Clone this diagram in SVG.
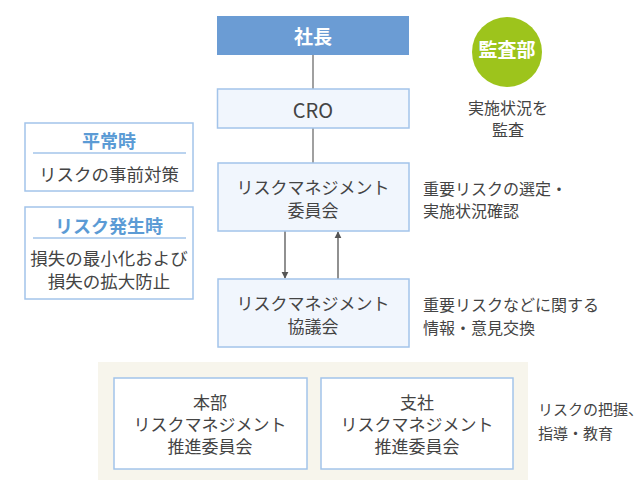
<svg xmlns="http://www.w3.org/2000/svg" width="643" height="480" viewBox="0 0 643 480">
<defs>
<style>
text{font-family:"Noto Sans CJK JP","Noto Sans",sans-serif;text-anchor:middle;dominant-baseline:central;fill:#444444}
.box{fill:#F1F6FD;stroke:#A3C4EA;stroke-width:1.5}
.wbox{fill:#ffffff;stroke:#A3C4EA;stroke-width:1.5}
.bt{font-size:17px}
.side{font-size:16px;text-anchor:start}
.ttl{font-size:18px;font-weight:bold;fill:#5B9BD5}
.lt{font-size:17.5px}
.wt{font-size:19px;font-weight:bold;fill:#ffffff}
.gline{stroke:#A0A0A0;stroke-width:2;fill:none}
.arr{stroke:#555555;stroke-width:1.3;fill:none;marker-end:url(#ah)}
</style>
<marker id="ah" viewBox="0 0 10 10" refX="9" refY="5" markerWidth="7" markerHeight="9" markerUnits="userSpaceOnUse" orient="auto"><path d="M0,0 L10,5 L0,10 z" fill="#555555"/></marker>
</defs>

<g id="connectors">
<line class="gline" x1="313" y1="55" x2="313" y2="89"/>
<line class="gline" x1="313" y1="128" x2="313" y2="163"/>
<line class="arr" x1="285" y1="231" x2="285" y2="278"/>
<line class="arr" x1="338" y1="279" x2="338" y2="232"/>
</g>

<g id="president">
<rect x="217" y="16" width="192" height="39" fill="#6B9CD4"/>
<text class="wt" x="313" y="35">社長</text>
</g>

<g id="cro">
<rect class="box" x="217.5" y="89" width="191.5" height="39"/>
<text x="313" y="109" style="font-size:20px">CRO</text>
</g>

<g id="committee">
<rect class="box" x="218" y="163" width="191" height="68"/>
<text class="bt" x="313" y="186">リスクマネジメント</text>
<text class="bt" x="313" y="209">委員会</text>
</g>

<g id="council">
<rect class="box" x="218" y="279" width="191" height="68"/>
<text class="bt" x="313" y="302">リスクマネジメント</text>
<text class="bt" x="313" y="325">協議会</text>
</g>

<g id="audit">
<circle cx="507" cy="52" r="35" fill="#9DC41C"/>
<text class="wt" x="507" y="48">監査部</text>
<text x="508" y="107" style="font-size:16px">実施状況を</text>
<text x="508" y="129" style="font-size:16px">監査</text>
</g>

<g id="committee-note">
<text class="side" x="423" y="188">重要リスクの選定・</text>
<text class="side" x="423" y="210">実施状況確認</text>
</g>

<g id="council-note">
<text class="side" x="423" y="304">重要リスクなどに関する</text>
<text class="side" x="423" y="327">情報・意見交換</text>
</g>

<g id="normal-time">
<rect class="wbox" x="25" y="123" width="168" height="68"/>
<text class="ttl" x="109" y="140">平常時</text>
<line x1="33" y1="153" x2="186" y2="153" stroke="#A3C4EA" stroke-width="1.5"/>
<text class="lt" x="109" y="173">リスクの事前対策</text>
</g>

<g id="risk-time">
<rect class="wbox" x="25" y="207" width="168" height="92"/>
<text class="ttl" x="109" y="225">リスク発生時</text>
<line x1="33" y1="238" x2="186" y2="238" stroke="#A3C4EA" stroke-width="1.5"/>
<text class="lt" x="109" y="257">損失の最小化および</text>
<text class="lt" x="109" y="280">損失の拡大防止</text>
</g>

<g id="promotion-area">
<rect x="98" y="362" width="430" height="118" fill="#F7F5EC"/>
</g>

<g id="hq-committee">
<rect class="wbox" x="114" y="378" width="193" height="91"/>
<text class="bt" x="210" y="401">本部</text>
<text class="bt" x="210" y="423">リスクマネジメント</text>
<text class="bt" x="210" y="445">推進委員会</text>
</g>

<g id="branch-committee">
<rect class="wbox" x="321" y="378" width="192" height="91"/>
<text class="bt" x="417" y="401">支社</text>
<text class="bt" x="417" y="423">リスクマネジメント</text>
<text class="bt" x="417" y="445">推進委員会</text>
</g>

<g id="promotion-note">
<text class="side" x="538" y="408" style="font-size:15px">リスクの把握、</text>
<text class="side" x="538" y="432" style="font-size:15px">指導・教育</text>
</g>
</svg>
